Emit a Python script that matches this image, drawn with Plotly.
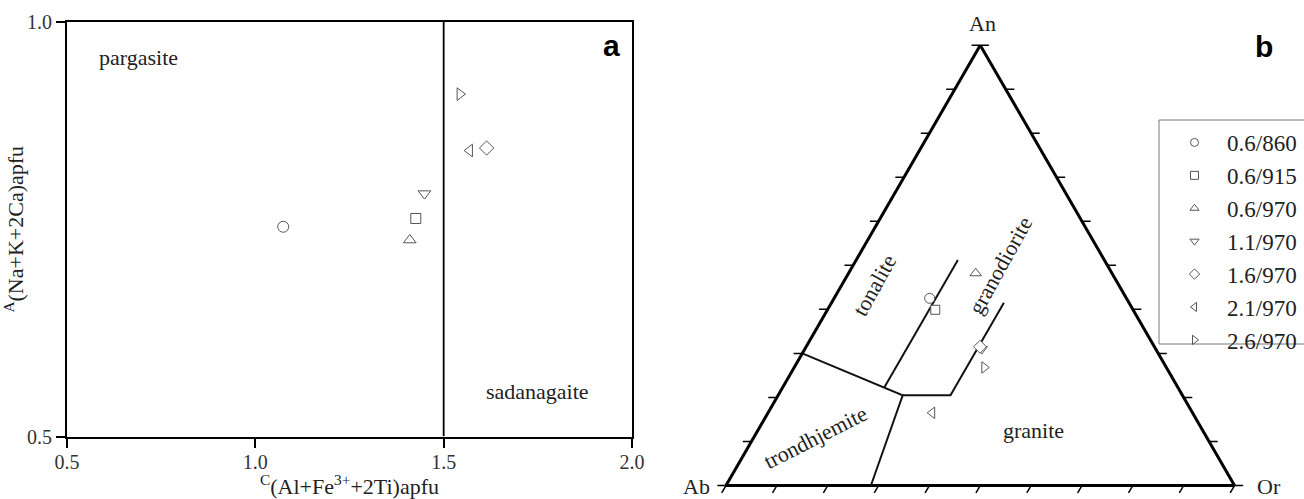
import math
import plotly.graph_objects as go

W, H = 1304, 499

# sample runs (pressure GPa / temperature °C) and their plotting symbols
labels = ["0.6/860", "0.6/915", "0.6/970", "1.1/970", "1.6/970", "2.1/970", "2.6/970"]
symbols = ["circle", "square", "triangle-up", "triangle-down",
           "diamond", "triangle-left", "triangle-right"]
sizes = [11, 10, 11, 11, 11, 11, 11]

# (a) amphibole classification
c_site = [1.074, 1.426, 1.410, 1.449, 1.614, 1.569, 1.543]   # C(Al+Fe3+ +2Ti)
a_site = [0.753, 0.763, 0.737, 0.793, 0.848, 0.845, 0.913]   # A(Na+K+2Ca)
x_ticks = [0.5, 1.0, 1.5, 2.0]
y_ticks = [0.5, 1.0]
divide_x = [1.5, 1.5]
divide_y = [0.5, 1.0]

# (b) normative feldspar An-Ab-Or
an = [0.425, 0.399, 0.482, 0.310, 0.315, 0.165, 0.268]
ab = [0.387, 0.389, 0.268, 0.342, 0.343, 0.512, 0.358]
orth = [0.188, 0.212, 0.250, 0.348, 0.342, 0.323, 0.374]

# field boundaries (An, Ab, Or)
bnd_tron_an = [0.300, 0.205, 0.000]
bnd_tron_ab = [0.700, 0.550, 0.715]
bnd_tron_or = [0.000, 0.245, 0.285]
bnd_ton_an = [0.222, 0.512]
bnd_ton_ab = [0.578, 0.288]
bnd_ton_or = [0.200, 0.200]
bnd_grd_an = [0.205, 0.205, 0.415]
bnd_grd_ab = [0.550, 0.456, 0.246]
bnd_grd_or = [0.245, 0.339, 0.339]

# ternary tick positions (fraction along each side) and tick length
tern_ticks = [0.0, 0.1, 0.2, 0.3, 0.4, 0.5, 0.6, 0.7, 0.8, 0.9, 1.0]
TL = 0.017

SERIF = "Liberation Serif, Times New Roman, serif"
SANS = "Liberation Sans, Arial, sans-serif"
MK_LINE = "#555555"
R3 = math.sqrt(3) / 2


def px(x):
    return x / W


def py(y):
    return 1 - y / H


fig = go.Figure()

# divider in (a)
fig.add_trace(go.Scatter(x=divide_x, y=divide_y, mode="lines",
                         line=dict(color="black", width=1.8),
                         showlegend=False, hoverinfo="skip"))

for i, lab in enumerate(labels):
    mk = dict(symbol=symbols[i], size=sizes[i], color="white",
              line=dict(color=MK_LINE, width=1))
    fig.add_trace(go.Scatter(x=[c_site[i]], y=[a_site[i]], mode="markers",
                             marker=mk, showlegend=False, name=lab))

# boundaries in (b)
for a_, b_, c_ in [(bnd_tron_an, bnd_tron_ab, bnd_tron_or),
                   (bnd_ton_an, bnd_ton_ab, bnd_ton_or),
                   (bnd_grd_an, bnd_grd_ab, bnd_grd_or)]:
    fig.add_trace(go.Scatterternary(a=a_, b=b_, c=c_, mode="lines",
                                    line=dict(color="#111111", width=2),
                                    showlegend=False, hoverinfo="skip"))

for i, lab in enumerate(labels):
    mk = dict(symbol=symbols[i], size=sizes[i] - 1, color="white",
              line=dict(color=MK_LINE, width=1))
    fig.add_trace(go.Scatterternary(a=[an[i]], b=[ab[i]], c=[orth[i]],
                                    mode="markers", marker=mk,
                                    showlegend=False, name=lab))

# outward tick marks of the triangle, on a hidden helper axis pair in side-length
# units (Ab at 0,0; Or at 1,0; An at 0.5,R3).  Ab-An and An-Or ticks are horizontal,
# Ab-Or ticks run parallel to the Ab-An side.
tx, ty = [], []
for t in tern_ticks:
    # Ab-An side
    tx += [t / 2, t / 2 - TL, None]
    ty += [t * R3, t * R3, None]
    # An-Or side
    tx += [1 - t / 2, 1 - t / 2 + TL, None]
    ty += [t * R3, t * R3, None]
    # Ab-Or side
    tx += [t, t - TL / 2, None]
    ty += [0.0, -TL * R3, None]
fig.add_trace(go.Scatter(x=tx, y=ty, xaxis="x2", yaxis="y2", mode="lines",
                         line=dict(color="black", width=1.5),
                         showlegend=False, hoverinfo="skip"))

# legend entries
for i, lab in enumerate(labels):
    fig.add_trace(go.Scatter(x=[None], y=[None], mode="markers", name=lab,
                             marker=dict(symbol=symbols[i], size=8, color="white",
                                         line=dict(color=MK_LINE, width=1))))

tern_axis = dict(min=0, showline=True, linecolor="black", linewidth=3,
                 ticks="", showticklabels=False, showgrid=False,
                 title=dict(text=""))

x0a, x1a, y0a, y1a = 67, 632, 22, 436.5
tri_l, tri_r, tri_b = 726.0, 1234.5, 485.5
S = tri_r - tri_l
tri_t = tri_b - S * R3

# helper axis ranges/domains that share the triangle's pixel scale
hx = [-0.05, 1.05]
hy = [-0.025, R3 + 0.05]
hx_dom = [px(tri_l + hx[0] * S), px(tri_l + hx[1] * S)]
hy_dom = [py(tri_b - hy[0] * S), py(tri_b - hy[1] * S)]

fig.update_layout(
    width=W, height=H, autosize=False,
    margin=dict(l=0, r=0, t=0, b=0, autoexpand=False),
    paper_bgcolor="white", plot_bgcolor="rgba(0,0,0,0)",
    font=dict(family=SERIF, color="#222222"),
    xaxis=dict(domain=[px(x0a), px(x1a)], range=[0.5, 2.0], tickvals=x_ticks,
               ticktext=["0.5", "1.0", "1.5", "2.0"],
               ticks="outside", ticklen=9, tickwidth=1.5, tickcolor="black",
               ticklabelstandoff=-3,
               showline=True, linecolor="black", linewidth=2, mirror=True,
               showgrid=False, zeroline=False,
               tickfont=dict(family=SERIF, size=20, color="#333333"),
               title=dict(text="<sup>C</sup>(Al+Fe<sup>3+</sup>+2Ti)apfu",
                          font=dict(family=SERIF, size=22, color="#222222"),
                          standoff=4)),
    yaxis=dict(domain=[py(y1a), py(y0a)], range=[0.5, 1.0], tickvals=y_ticks,
               ticktext=["0.5", "1.0"],
               ticks="outside", ticklen=9, tickwidth=1.5, tickcolor="black",
               showline=True, linecolor="black", linewidth=2, mirror=True,
               showgrid=False, zeroline=False,
               tickfont=dict(family=SERIF, size=20, color="#333333"),
               title=dict(text="<sup>A</sup>(Na+K+2Ca)apfu",
                          font=dict(family=SERIF, size=22, color="#222222"),
                          standoff=6)),
    xaxis2=dict(domain=hx_dom, range=hx, anchor="y2", visible=False,
                fixedrange=True),
    yaxis2=dict(domain=hy_dom, range=hy, anchor="x2", visible=False,
                fixedrange=True),
    ternary=dict(domain=dict(x=[px(tri_l), px(tri_r)], y=[py(tri_b), py(tri_t)]),
                 sum=1, bgcolor="white",
                 aaxis=tern_axis, baxis=tern_axis, caxis=tern_axis),
    legend=dict(x=px(1162), y=py(121), xanchor="left", yanchor="top",
                bgcolor="rgba(0,0,0,0)", borderwidth=0, itemwidth=55,
                font=dict(family=SERIF, size=23, color="#222222"),
                tracegroupgap=0),
    showlegend=True,
)

# legend frame (runs off the right edge)
fig.add_shape(type="rect", xref="paper", yref="paper",
              x0=px(1159), x1=px(1320), y0=py(344), y1=py(120),
              line=dict(color="#777777", width=1), layer="below")


def note(text, x, y, size=22, angle=0, anchor="center", family=SERIF,
         bold=False, color="#222222"):
    fig.add_annotation(text=f"<b>{text}</b>" if bold else text,
                       x=px(x), y=py(y), xref="paper", yref="paper",
                       xanchor=anchor, yanchor="middle", showarrow=False,
                       textangle=angle,
                       font=dict(family=family, size=size, color=color))


note("pargasite", 138, 57)
note("sadanagaite", 537, 391)
note("a", 611, 46, size=30, family=SANS, bold=True, color="black")
note("b", 1264, 47, size=30, family=SANS, bold=True, color="black")
note("tonalite", 874, 285, angle=-61)
note("granodiorite", 1000, 265, angle=-61)
note("trondhjemite", 815, 437, angle=-27)
note("granite", 1033, 430)
note("An", 982.5, 23)
note("Ab", 712, 486, anchor="right")
note("Or", 1255, 486, anchor="left")

fig.write_html("out.html")
